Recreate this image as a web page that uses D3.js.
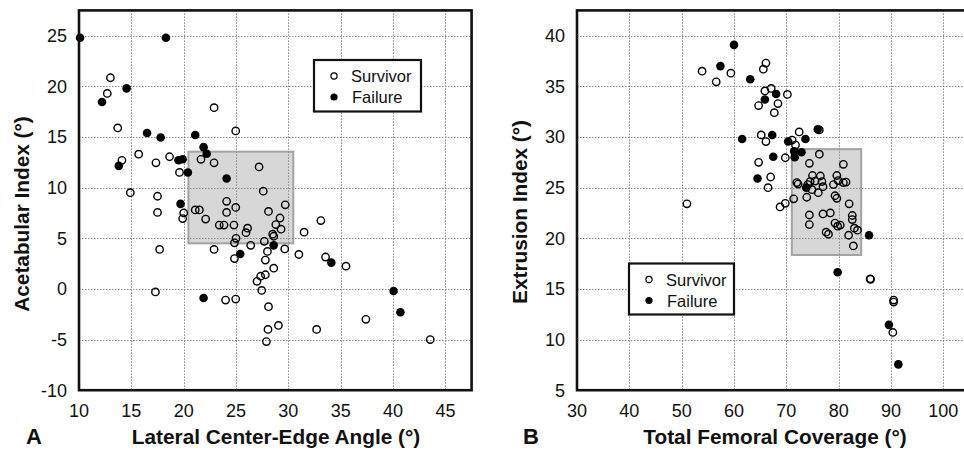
<!DOCTYPE html>
<html><head><meta charset="utf-8">
<script src="https://cdn.jsdelivr.net/npm/d3@7"></script>
<style>body{margin:0;background:#fff}svg{display:block}text{font-family:"Liberation Sans",Arial,sans-serif;fill:#111}</style>
</head><body>
<svg id="c" width="964" height="452"></svg>
<script>
// Panel A data: [LCEA, Acetabular Index]
const aSurvivor = [[13.0,20.85],[12.7,19.3],[22.9,17.9],[13.7,15.9],[24.97,15.6],[15.7,13.3],[14.1,12.7],[17.35,12.45],[18.65,13.05],[21.65,12.8],[22.9,12.45],[19.6,11.5],[27.2,12.05],[27.6,9.65],[14.9,9.5],[17.5,9.15],[20.0,7.5],[19.9,6.95],[17.5,7.55],[21.1,7.8],[21.5,7.8],[24.1,8.65],[24.97,8.05],[24.1,7.55],[22.1,6.9],[23.4,6.3],[23.85,6.3],[24.8,6.3],[26.1,6.0],[25.95,5.55],[25.0,5.0],[24.85,4.55],[26.4,4.3],[27.7,4.7],[22.9,3.9],[17.7,3.9],[24.85,3.0],[27.8,2.85],[27.8,1.4],[27.35,1.25],[27.0,0.75],[27.45,-0.15],[17.3,-0.3],[24.0,-1.1],[24.97,-1.0],[28.1,-1.75],[28.05,-4.0],[27.9,-5.2],[29.7,8.3],[28.1,7.65],[29.2,7.0],[28.8,6.35],[29.3,5.9],[28.5,5.4],[28.6,5.2],[28.0,3.7],[29.65,3.95],[28.6,2.05],[29.05,-3.6],[33.1,6.75],[31.5,5.6],[31.0,3.4],[33.55,3.15],[35.5,2.25],[37.4,-3.0],[32.7,-4.0],[43.55,-5.0]];
const aFailure = [[10.1,24.8],[18.3,24.8],[14.55,19.8],[12.2,18.45],[16.5,15.4],[17.8,14.95],[21.1,15.2],[21.9,14.0],[22.2,13.35],[13.8,12.15],[19.5,12.7],[19.9,12.8],[20.4,11.5],[24.1,10.9],[19.7,8.4],[25.4,3.45],[21.9,-0.9],[28.6,4.3],[34.1,2.6],[40.05,-0.2],[40.7,-2.3]];
const aBox = [20.45, 30.47, 4.5, 13.55];
const aXTicks = [10,15,20,25,30,35,40,45];
const aYTicks = [-10,-5,0,5,10,15,20,25];

// Panel B data: [Total Femoral Coverage, Extrusion Index]
const bSurvivor = [[53.9,36.5],[59.4,36.3],[56.6,35.45],[66.1,37.3],[65.6,36.7],[65.9,34.55],[64.7,33.1],[65.2,30.2],[66.1,29.55],[64.7,27.5],[67.0,26.05],[66.5,25.0],[51.0,23.4],[67.1,34.8],[70.2,34.2],[68.4,33.3],[67.7,32.4],[76.3,30.7],[72.45,30.5],[71.1,29.7],[71.75,29.2],[69.8,27.95],[76.3,28.3],[74.4,27.4],[80.9,27.3],[75.0,26.2],[76.5,26.15],[74.55,25.6],[75.5,25.65],[76.8,25.6],[79.65,26.2],[79.9,25.7],[80.9,25.5],[81.4,25.55],[72.0,25.5],[72.25,25.35],[74.1,25.3],[74.9,24.8],[76.1,24.5],[77.0,25.1],[79.0,25.3],[79.3,24.2],[79.65,23.95],[71.4,23.9],[73.9,24.05],[68.8,23.1],[69.8,23.45],[82.0,23.4],[74.4,22.3],[77.0,22.4],[78.4,22.5],[74.4,21.35],[82.6,22.25],[82.6,21.85],[79.3,21.5],[79.8,21.2],[80.3,21.3],[77.6,20.6],[78.05,20.4],[83.0,21.0],[83.6,20.8],[81.9,20.3],[82.8,19.25],[86.0,16.0],[86.1,15.95],[90.5,13.9],[90.5,13.7],[90.35,10.7]];
const bFailure = [[60.0,39.1],[57.4,37.0],[63.1,35.7],[65.9,33.7],[61.55,29.8],[64.5,25.9],[68.05,34.25],[76.0,30.75],[67.3,30.2],[73.65,29.8],[70.35,29.55],[71.5,28.6],[72.9,28.5],[71.6,28.0],[67.5,28.05],[73.8,25.0],[85.8,20.3],[79.8,16.65],[89.6,11.45],[91.4,7.55]];
const bBox = [71.05, 84.3, 18.35, 28.8];
const bXTicks = [30,40,50,60,70,80,90,100];
const bYTicks = [5,10,15,20,25,30,35,40];

const legendLabels = ["Survivor","Failure"];

const svg = d3.select("#c");

function panel(cfg){
  const g = svg.append("g");
  const x = d3.scaleLinear().domain(cfg.xd).range(cfg.xr);
  const y = d3.scaleLinear().domain(cfg.yd).range([390.2, 10.4]);
  const [x0,x1] = cfg.xr, y0 = 10.4, y1 = 390.2;
  // box
  g.append("rect").attr("x", x(cfg.box[0])).attr("y", y(cfg.box[3]))
    .attr("width", x(cfg.box[1]) - x(cfg.box[0])).attr("height", y(cfg.box[2]) - y(cfg.box[3]))
    .attr("fill", "#d7d7d7").attr("stroke", "#a3a3a3").attr("stroke-width", 2);
  // grid
  const grid = g.append("g").attr("stroke", "#888").attr("stroke-width", 1).attr("stroke-dasharray", "1.5,1.5");
  grid.selectAll(".gx").data(cfg.xt.slice(1)).join("line")
    .attr("x1", d => Math.round(x(d)) + 0.5).attr("x2", d => Math.round(x(d)) + 0.5).attr("y1", y0).attr("y2", y1);
  grid.selectAll(".gy").data(cfg.yt.slice(1)).join("line")
    .attr("y1", d => Math.round(y(d)) + 0.5).attr("y2", d => Math.round(y(d)) + 0.5).attr("x1", x0).attr("x2", x1);
  // points
  g.append("g").selectAll("circle").data(cfg.surv).join("circle")
    .attr("cx", d => x(d[0])).attr("cy", d => y(d[1])).attr("r", 3.7)
    .attr("fill", "none").attr("stroke", "#000").attr("stroke-width", 1.4);
  g.append("g").selectAll("circle").data(cfg.fail).join("circle")
    .attr("cx", d => x(d[0])).attr("cy", d => y(d[1])).attr("r", 4.3).attr("fill", "#000");
  // frame
  g.append("rect").attr("x", x0).attr("y", y0).attr("width", x1 - x0).attr("height", y1 - y0)
    .attr("fill", "none").attr("stroke", "#111").attr("stroke-width", 2.6);
  // tick labels
  g.append("g").selectAll("text").data(cfg.xt).join("text")
    .attr("x", d => x(d)).attr("y", 416.5).attr("text-anchor", "middle")
    .attr("font-size", 18).text(d => d);
  g.append("g").selectAll("text").data(cfg.yt).join("text")
    .attr("x", x0 - 12).attr("y", d => y(d) + 6.3).attr("text-anchor", "end")
    .attr("font-size", 18).text(d => d);
  // titles
  g.append("text").attr("x", cfg.xtitleX).attr("y", 444).attr("text-anchor", "middle")
    .attr("font-size", 20.8).attr("font-weight", "bold").text(cfg.xtitle);
  g.append("text").attr("transform", `translate(${x0 - 50},${cfg.ytitleY}) rotate(-90)`)
    .attr("text-anchor", "middle").attr("font-size", 20.8).attr("font-weight", "bold").text(cfg.ytitle);
  g.append("text").attr("x", cfg.letterX).attr("y", 444).attr("font-size", 22).attr("font-weight", "bold").text(cfg.letter);
  // legend
  const L = cfg.legend;
  const lg = g.append("g");
  lg.append("rect").attr("x", L[0]).attr("y", L[1]).attr("width", L[2]).attr("height", L[3])
    .attr("fill", "#fff").attr("stroke", "#111").attr("stroke-width", 2.2);
  legendLabels.forEach((lab, i) => {
    const cy = L[1] + 16 + i * 21;
    const c = lg.append("circle").attr("cx", L[0] + 20).attr("cy", cy).attr("r", i === 0 ? 3.1 : 3.6);
    if (i === 0) c.attr("fill", "none").attr("stroke", "#000").attr("stroke-width", 1.2); else c.attr("fill", "#000");
    lg.append("text").attr("x", L[0] + 37 + i).attr("y", cy + 6).attr("font-size", 16.5).text(lab);
  });
}

panel({xd:[10,47.5], xr:[79,471.6], yd:[-10,27.5], box:aBox, xt:aXTicks, yt:aYTicks,
  surv:aSurvivor, fail:aFailure, xtitle:"Lateral Center-Edge Angle (°)", xtitleX:276,
  ytitle:"Acetabular Index (°)", ytitleY:214, letter:"A", letterX:26, legend:[314,60,107,51.5]});
panel({xd:[30,107.5], xr:[577,982.6], yd:[5,42.5], box:bBox, xt:bXTicks, yt:bYTicks,
  surv:bSurvivor, fail:bFailure, xtitle:"Total Femoral Coverage (°)", xtitleX:775,
  ytitle:"Extrusion Index (°)", ytitleY:212, letter:"B", letterX:523, legend:[629,263.5,105,51]});
</script>
</body></html>
